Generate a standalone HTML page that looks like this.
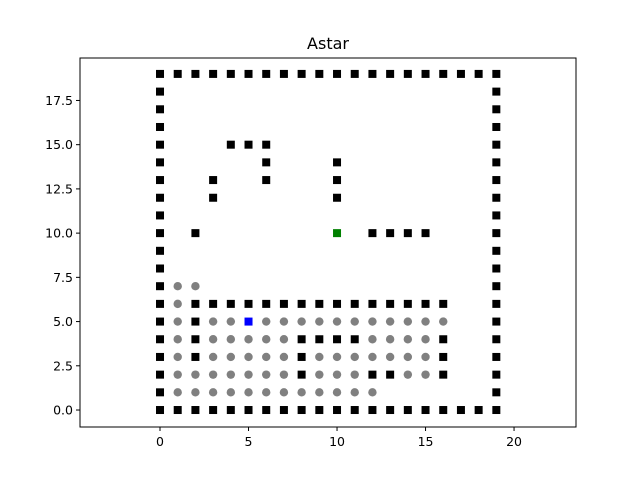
<!DOCTYPE html>
<html><head><meta charset="utf-8"><style>
html,body{margin:0;padding:0;background:#fff;}
svg text{font-family:"DejaVu Sans","Liberation Sans",sans-serif;}
</style></head><body>
<svg id="chart" width="640" height="480" xmlns="http://www.w3.org/2000/svg">
<rect width="640" height="480" fill="#fff"/>
<text x="328" y="49" font-size="16" text-anchor="middle">Astar</text>
<g id="marks"></g>
<rect x="80" y="58" width="496" height="369" fill="none" stroke="#000" stroke-width="1"/>
<g id="axes"></g>
</svg>
<script>
const xTicks=[0,5,10,15,20];
const yTicks=[0,2.5,5,7.5,10,12.5,15,17.5];
const obstacleX=[4,5,6,6,6,3,3,10,10,10,2,12,13,14,15,2,2,2,16,16,16,8,9,10,11,8,8,12,13];
const obstacleY=[15,15,15,14,13,13,12,14,13,12,10,10,10,10,10,5,4,3,4,3,2,4,4,4,4,3,2,2,2];
const visitedX=[1,2,1,1,3,4,6,7,8,9,10,11,12,13,14,15,16,1,3,4,5,6,7,12,13,14,15,1,3,4,5,6,7,9,10,11,12,13,14,15,1,2,3,4,5,6,7,9,10,11,14,15,1,2,3,4,5,6,7,8,9,10,11,12];
const visitedY=[7,7,6,5,5,5,5,5,5,5,5,5,5,5,5,5,5,4,4,4,4,4,4,4,4,4,4,3,3,3,3,3,3,3,3,3,3,3,3,3,2,2,2,2,2,2,2,2,2,2,2,2,1,1,1,1,1,1,1,1,1,1,1,1];
const startPt=[5,5];
const goalPt=[10,10];
const xMin=-4.52,xMax=23.5,yMin=-0.96,yMax=19.9;
const L=80,R=576,T=58,B=427;
const sx=v=>L+(v-xMin)/(xMax-xMin)*(R-L);
const sy=v=>B-(v-yMin)/(yMax-yMin)*(B-T);
const NS="http://www.w3.org/2000/svg";
const marks=document.getElementById('marks');
const axes=document.getElementById('axes');
function mk(tag,attrs,parent){const e=document.createElementNS(NS,tag);for(const k in attrs)e.setAttribute(k,attrs[k]);parent.appendChild(e);return e;}
const wallX=[],wallY=[];
for(let i=0;i<=19;i++){wallX.push(i);wallY.push(19);wallX.push(i);wallY.push(0);}
for(let i=1;i<19;i++){wallX.push(0);wallY.push(i);wallX.push(19);wallY.push(i);}
for(let i=2;i<=16;i++){wallX.push(i);wallY.push(6);}
function sq(x,y,c,name){const r=mk('rect',{x:sx(x)-4,y:sy(y)-4,width:8,height:8,fill:c},marks);

}
visitedX.forEach((x,i)=>{const c=mk('circle',{cx:sx(x),cy:sy(visitedY[i]),r:4.2,fill:'#808080'},marks);

});
wallX.forEach((x,i)=>sq(x,wallY[i],'#000','wall-cell'));
obstacleX.forEach((x,i)=>sq(x,obstacleY[i],'#000','obstacle-cell'));
sq(startPt[0],startPt[1],'#0000ff','start-cell');
sq(goalPt[0],goalPt[1],'#008000','goal-cell');
xTicks.forEach(v=>{const x=sx(v);
const t=mk('line',{x1:x,x2:x,y1:B,y2:B+4,stroke:'#000'},axes);


const l=mk('text',{x:x,y:B+19,'font-size':12.5,'text-anchor':'middle'},axes);l.textContent=v;

});
yTicks.forEach(v=>{const y=sy(v);
const t=mk('line',{x1:L-4,x2:L,y1:y,y2:y,stroke:'#000'},axes);


const l=mk('text',{x:L-7,y:y+4.5,'font-size':12.5,'text-anchor':'end'},axes);l.textContent=v.toFixed(1);

});
</script>
</body></html>
